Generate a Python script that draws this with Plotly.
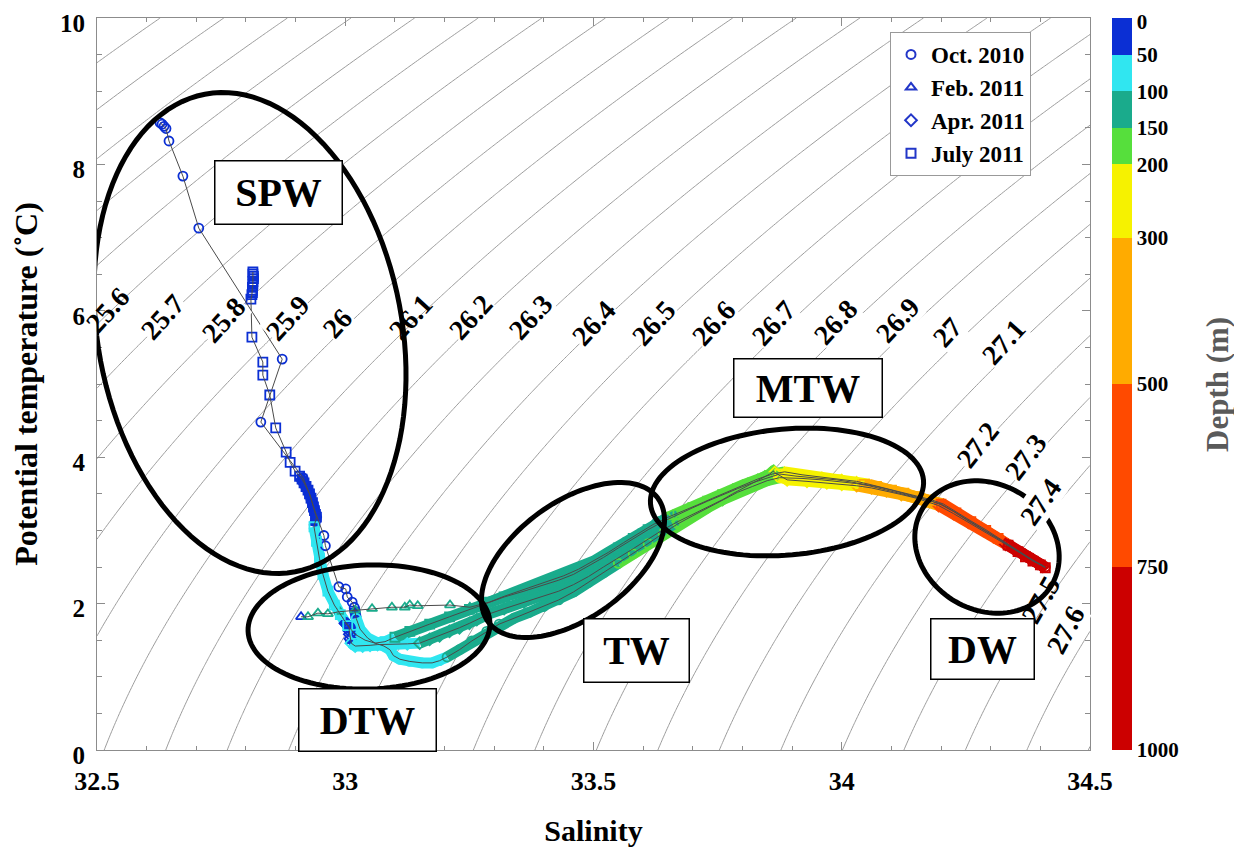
import numpy as np
import plotly.graph_objects as go

FONT = '"Liberation Serif", "Times New Roman", serif'

# ---------------- data ----------------
depth_edges = [0, 50, 100, 150, 200, 300, 500, 750, 1000]
depth_colors = ["#0b2fd4", "#30e6f0", "#1aab8c", "#56df3c", "#f6f200", "#ffab00", "#ff4a00", "#cc0000"]
depth_ticks = [0, 50, 100, 150, 200, 300, 500, 750, 1000]

cruise_names = ["Oct. 2010", "Feb. 2011", "Apr. 2011", "July 2011"]
cruise_symbols = ["circle-open", "triangle-up-open", "diamond-open", "square-open"]

oct_D = [0, 3, 6, 9, 12, 18, 22, 26, 30, 33, 35, 37, 39, 41, 43, 45, 46, 48, 49,
         52, 56, 60, 64, 68, 72, 76, 80, 84, 88, 92, 96,
         100, 104, 108, 112, 116, 120, 124, 128, 132, 136, 140, 145,
         150, 154, 158, 162, 166, 170, 174, 178, 182, 187, 193,
         200, 215, 235, 260, 285, 305, 330, 360, 395, 440, 480,
         510, 545, 580, 620, 660, 705, 750, 800, 850, 900, 950, 1000]
oct_S = [32.627, 32.631, 32.635, 32.639, 32.645, 32.673, 32.705, 32.873, 32.830, 32.915, 32.928, 32.938, 32.957, 32.960, 32.987, 33.001, 33.004, 33.014, 33.018,
         33.022, 33.030, 33.045, 33.060, 33.078, 33.090, 33.097, 33.110, 33.130, 33.155, 33.175, 33.190,
         33.205, 33.230, 33.255, 33.285, 33.310, 33.340, 33.370, 33.400, 33.430, 33.460, 33.490, 33.520,
         33.550, 33.580, 33.610, 33.640, 33.670, 33.700, 33.730, 33.760, 33.790, 33.820, 33.850,
         33.875, 33.920, 33.960, 34.000, 34.030, 34.055, 34.080, 34.110, 34.135, 34.160, 34.180,
         34.200, 34.225, 34.250, 34.275, 34.300, 34.320, 34.340, 34.360, 34.375, 34.390, 34.400, 34.410]
oct_T = [8.57, 8.55, 8.52, 8.49, 8.32, 7.84, 7.13, 5.34, 4.48, 3.72, 3.50, 3.28, 2.93, 2.79, 2.23, 2.20, 2.09, 2.02, 1.95,
         1.80, 1.65, 1.53, 1.46, 1.42, 1.37, 1.29, 1.24, 1.21, 1.19, 1.19, 1.22,
         1.27, 1.37, 1.49, 1.62, 1.72, 1.80, 1.88, 1.96, 2.05, 2.16, 2.29, 2.42,
         2.55, 2.68, 2.82, 2.96, 3.09, 3.20, 3.31, 3.42, 3.52, 3.60, 3.68,
         3.72, 3.71, 3.69, 3.66, 3.64, 3.61, 3.57, 3.52, 3.48, 3.44, 3.40,
         3.35, 3.26, 3.15, 3.05, 2.95, 2.87, 2.78, 2.70, 2.63, 2.58, 2.54, 2.50]

feb_D = [0, 102, 105, 108, 110, 112, 114, 116, 118, 120, 121, 123, 125, 127,
         129, 131, 133, 135, 137, 139, 141, 143, 145, 147, 149,
         152, 156, 160, 165, 170, 176, 183, 191,
         200, 215, 235, 260, 285, 305, 330, 360, 395, 440, 480,
         510, 550, 600, 650, 700, 750, 800, 850, 900, 950, 1000]
feb_S = [32.911, 32.925, 32.945, 32.965, 32.989, 33.020, 33.054, 33.094, 33.120, 33.130, 33.146, 33.211, 33.251, 33.290,
         33.320, 33.350, 33.380, 33.410, 33.440, 33.470, 33.500, 33.530, 33.560, 33.590, 33.620,
         33.650, 33.680, 33.710, 33.740, 33.770, 33.800, 33.830, 33.860,
         33.885, 33.920, 33.960, 34.000, 34.030, 34.055, 34.080, 34.110, 34.135, 34.160, 34.180,
         34.205, 34.230, 34.260, 34.290, 34.315, 34.335, 34.355, 34.370, 34.385, 34.395, 34.405]
feb_T = [1.82, 1.82, 1.87, 1.86, 1.89, 1.91, 1.93, 1.95, 1.95, 1.98, 1.97, 1.98, 1.95, 2.02,
         2.10, 2.17, 2.24, 2.31, 2.38, 2.47, 2.58, 2.70, 2.83, 2.95, 3.08,
         3.18, 3.26, 3.35, 3.44, 3.53, 3.62, 3.70, 3.77,
         3.80, 3.76, 3.73, 3.70, 3.67, 3.63, 3.59, 3.54, 3.50, 3.46, 3.42,
         3.36, 3.25, 3.13, 3.01, 2.90, 2.81, 2.72, 2.65, 2.59, 2.55, 2.52]

apr_D = [0, 5, 10, 15, 20, 25, 30, 35, 40, 45,
         52, 58, 64, 70, 76, 82, 88, 94,
         100, 103, 106, 109, 112, 115, 118, 121, 124, 127, 130, 133, 136, 139, 141, 143, 145, 147, 149,
         152, 155, 158, 162, 166, 170, 174, 178, 182, 186, 190, 195,
         200, 215, 235, 260, 285, 305, 330, 360, 395, 440, 480,
         510, 550, 600, 650, 700, 750, 800, 850, 900, 950, 1000]
apr_S = [33.000, 33.002, 33.004, 33.005, 33.006, 33.007, 33.008, 33.008, 33.009, 33.010,
         33.012, 33.020, 33.035, 33.050, 33.065, 33.080, 33.100, 33.125,
         33.150, 33.170, 33.190, 33.210, 33.230, 33.250, 33.265, 33.290, 33.320, 33.360, 33.400, 33.430, 33.460, 33.490, 33.520, 33.550, 33.580, 33.610, 33.640,
         33.670, 33.700, 33.730, 33.760, 33.780, 33.800, 33.815, 33.830, 33.845, 33.855, 33.860, 33.863,
         33.865, 33.890, 33.930, 33.970, 34.000, 34.030, 34.060, 34.090, 34.120, 34.150, 34.170,
         34.195, 34.225, 34.255, 34.285, 34.310, 34.330, 34.350, 34.370, 34.385, 34.395, 34.405]
apr_T = [1.73, 1.72, 1.72, 1.71, 1.70, 1.69, 1.67, 1.63, 1.58, 1.52,
         1.46, 1.42, 1.42, 1.43, 1.44, 1.44, 1.44, 1.45,
         1.46, 1.51, 1.56, 1.62, 1.67, 1.73, 1.78, 1.86, 1.93, 2.02, 2.10, 2.17, 2.26, 2.37, 2.50, 2.62, 2.75, 2.88, 3.01,
         3.12, 3.22, 3.32, 3.42, 3.50, 3.57, 3.63, 3.68, 3.73, 3.77, 3.80, 3.81,
         3.79, 3.69, 3.67, 3.65, 3.63, 3.61, 3.58, 3.54, 3.49, 3.44, 3.40,
         3.34, 3.23, 3.11, 3.00, 2.90, 2.81, 2.73, 2.66, 2.60, 2.55, 2.51]

jul_D = [0, 2, 4, 6, 8, 10, 12, 14, 16, 18, 20, 22, 24, 26, 28, 30, 32, 34, 36,
         38, 39, 40, 41, 42, 43, 44, 45, 46, 47, 48, 49,
         52, 56, 60, 64, 68, 72, 76, 80, 84, 88, 92, 96,
         100, 103, 106, 109, 112, 115, 118, 121, 124, 127, 130, 133, 136, 139, 142, 145, 148,
         151, 155, 160, 166, 172, 180, 190,
         200, 215, 235, 260, 285, 305, 330, 360, 395, 440, 480,
         510, 550, 600, 650, 700, 750, 800, 850, 900, 950, 1000]
jul_S = [32.814, 32.814, 32.815, 32.815, 32.814, 32.814, 32.813, 32.813, 32.813, 32.812, 32.810, 32.812, 32.834, 32.834, 32.848, 32.860, 32.881, 32.889, 32.899,
         32.908, 32.913, 32.917, 32.921, 32.925, 32.928, 32.931, 32.934, 32.936, 32.938, 32.940, 32.942,
         32.937, 32.942, 32.948, 32.955, 32.965, 32.978, 32.990, 33.005, 33.020, 33.040, 33.060, 33.080,
         33.100, 33.130, 33.170, 33.210, 33.250, 33.290, 33.320, 33.360, 33.400, 33.430, 33.460, 33.490, 33.520, 33.550, 33.580, 33.610, 33.640,
         33.670, 33.700, 33.730, 33.760, 33.790, 33.820, 33.850,
         33.875, 33.910, 33.950, 33.990, 34.020, 34.045, 34.070, 34.100, 34.125, 34.150, 34.175,
         34.200, 34.230, 34.260, 34.290, 34.315, 34.335, 34.355, 34.370, 34.385, 34.400, 34.410]
jul_T = [6.53, 6.50, 6.47, 6.44, 6.40, 6.36, 6.32, 6.28, 6.25, 6.22, 6.16, 5.64, 5.30, 5.12, 4.85, 4.40, 4.07, 3.93, 3.81,
         3.74, 3.70, 3.65, 3.60, 3.55, 3.50, 3.44, 3.38, 3.32, 3.27, 3.22, 3.18,
         3.05, 2.85, 2.62, 2.40, 2.17, 1.98, 1.85, 1.70, 1.58, 1.50, 1.46, 1.48,
         1.54, 1.62, 1.72, 1.82, 1.92, 2.02, 2.09, 2.17, 2.25, 2.32, 2.40, 2.51, 2.63, 2.76, 2.89, 3.01, 3.12,
         3.22, 3.31, 3.40, 3.49, 3.57, 3.65, 3.72,
         3.77, 3.74, 3.72, 3.69, 3.66, 3.63, 3.60, 3.55, 3.51, 3.46, 3.41,
         3.36, 3.24, 3.12, 3.00, 2.89, 2.80, 2.71, 2.64, 2.58, 2.53, 2.49]

# depth from which the dense (band-like) part of each profile starts
band_start = [49, 127, 45, 38]

iso_labels = ["25.6", "25.7", "25.8", "25.9", "26", "26.1", "26.2", "26.3", "26.4", "26.5", "26.6",
              "26.7", "26.8", "26.9", "27", "27.1", "27.2", "27.3", "27.4", "27.5", "27.6"]
# label centres in page pixels
iso_label_px = [(107, 310), (162, 317), (223, 320), (287, 318), (337, 323), (410, 317), (470, 317),
                (530, 317), (593, 323), (653, 323), (713, 323), (773, 323), (835, 322), (897, 320),
                (947, 332), (1003, 342), (977, 445), (1025, 457), (1040, 502), (1040, 600), (1065, 630)]
iso_label_clear = {"25.6", "26.1", "27.5"}

# water-mass labels: name, box centre (page px), box size (px)
water_masses = [("SPW", 278, 192, 129, 65), ("DTW", 367, 720, 139, 64), ("TW", 636, 650, 107, 65),
                ("MTW", 808, 388, 150, 60), ("DW", 982, 649, 105, 62)]
# ellipses: centre x, centre y, semi-axis a, semi-axis b, rotation (deg) - page pixels
ellipses = [(250, 333, 152, 243, -10.7), (369, 627, 121, 62, -2), (573, 560, 105, 58, -36),
            (787, 492, 137, 63, -5), (987, 547, 75, 63, 30)]

# ---------------- layout geometry ----------------
OFF = 8                       # default page margin of the html body
W, H = 1242 - OFF, 847 - OFF
PL, PT = 97, 18               # plot-area top-left corner on the page
PW, PH = 993, 732             # plot-area size
ML, MT = PL - OFF, PT - OFF
MR, MB = W - ML - PW, H - MT - PH
XR, YR = (32.5, 34.5), (0.0, 10.0)


def px2S(px):
    return XR[0] + (np.asarray(px, dtype=float) - PL) / PW * (XR[1] - XR[0])


def py2T(py):
    return YR[0] + (PT + PH - np.asarray(py, dtype=float)) / PH * (YR[1] - YR[0])


def sigma0(S, T):
    rw = (999.842594 + 6.793952e-2 * T - 9.095290e-3 * T**2 + 1.001685e-4 * T**3
          - 1.120083e-6 * T**4 + 6.536332e-9 * T**5)
    A = 8.24493e-1 - 4.0899e-3 * T + 7.6438e-5 * T**2 - 8.2467e-7 * T**3 + 5.3875e-9 * T**4
    B = -5.72466e-3 + 1.0227e-4 * T - 1.6546e-6 * T**2
    C = 4.8314e-4
    return rw + A * S + B * S**1.5 + C * S**2 - 1000.0


def bin_index(d):
    k = int(np.searchsorted(depth_edges, d, side="right")) - 1
    return min(max(k, 0), len(depth_colors) - 1)


fig = go.Figure()

# isopycnals
Sg = np.linspace(XR[0], XR[1], 241)
Tg = np.linspace(YR[0], YR[1], 241)
SS, TT = np.meshgrid(Sg, Tg)
fig.add_trace(go.Contour(
    x=Sg, y=Tg, z=sigma0(SS, TT),
    contours=dict(start=24.9, end=27.8, size=0.1, coloring="lines", showlabels=False),
    colorscale=[[0, "#9c9c9c"], [1, "#9c9c9c"]], line=dict(width=1, smoothing=1),
    showscale=False, hoverinfo="skip", showlegend=False))

profiles = [(oct_S, oct_T, oct_D), (feb_S, feb_T, feb_D), (apr_S, apr_T, apr_D), (jul_S, jul_T, jul_D)]

# thick depth-coloured bands where profiles are densely sampled
for (S, T, D), d0 in zip(profiles, band_start):
    idx = [i for i, d in enumerate(D) if d >= d0]
    groups = []
    for i in idx:
        b = bin_index(D[i])
        if groups and groups[-1][0] == b:
            groups[-1][1].append(i)
        else:
            groups.append([b, [i]])
    for g, (b, ii) in enumerate(groups):
        seg = list(ii)
        if g + 1 < len(groups):
            seg.append(groups[g + 1][1][0])
        fig.add_trace(go.Scatter(
            x=[S[i] for i in seg], y=[T[i] for i in seg], mode="lines",
            line=dict(color=depth_colors[b], width=11), hoverinfo="skip", showlegend=False))

# markers coloured by depth
for (S, T, D), sym in zip(profiles, cruise_symbols):
    fig.add_trace(go.Scatter(
        x=S, y=T, mode="markers",
        marker=dict(symbol=sym, size=9, color=[depth_colors[bin_index(d)] for d in D],
                    line=dict(width=1.8)),
        hoverinfo="skip", showlegend=False))

# thin profile lines
for (S, T, D) in profiles:
    fig.add_trace(go.Scatter(x=S, y=T, mode="lines", line=dict(color="#4a4a4a", width=1),
                             hoverinfo="skip", showlegend=False))

# legend entries
for name, sym in zip(cruise_names, cruise_symbols):
    fig.add_trace(go.Scatter(x=[None], y=[None], mode="markers", name=name,
                             marker=dict(symbol=sym, size=9, color="#2236c8", line=dict(width=2))))

# colour bar (depth); the top label sits just inside the bar so it is not clipped
cscale = []
for k in range(len(depth_colors) - 1, -1, -1):
    v_lo = 1 - depth_edges[k + 1] / 1000.0
    v_hi = 1 - depth_edges[k] / 1000.0
    cscale += [[v_lo, depth_colors[k]], [v_hi, depth_colors[k]]]
cb_tickvals = [-max(d, 5) for d in depth_ticks]
fig.add_trace(go.Scatter(
    x=[0], y=[-100], mode="markers", showlegend=False, hoverinfo="skip",
    marker=dict(color=[-500], cmin=-1000, cmax=0, colorscale=cscale, showscale=True,
                colorbar=dict(thickness=20, lenmode="pixels", len=PH, y=1, yanchor="top",
                              x=1 + 22 / PW, xanchor="left", xpad=0, ypad=0, outlinewidth=0,
                              tickvals=cb_tickvals, ticktext=[str(d) for d in depth_ticks],
                              ticks="", ticklabeloverflow="allow",
                              tickfont=dict(family=FONT, size=21, color="black", weight="bold")))))

annotations = []
# colour-bar title
annotations.append(dict(x=(1218 - PL) / PW, y=1 - (385 - PT) / PH, xref="paper", yref="paper",
                        xanchor="center", yanchor="middle",
                        text="Depth (m)", showarrow=False, textangle=-90,
                        font=dict(family=FONT, size=31, color="#5a5a5a", weight="bold")))

# isopycnal labels (rotated along the isopycnal through the label position)
for lab, (lx, ly) in zip(iso_labels, iso_label_px):
    s, t = float(px2S(lx)), float(py2T(ly))
    e = 1e-4
    dS = (sigma0(s + e, t) - sigma0(s - e, t)) / (2 * e)
    dT = (sigma0(s, t + e) - sigma0(s, t - e)) / (2 * e)
    ang = np.degrees(np.arctan2(dS * PH / (YR[1] - YR[0]), -dT * PW / (XR[1] - XR[0])))
    annotations.append(dict(
        x=s, y=t, xref="x", yref="y", text=lab, showarrow=False, textangle=-(ang + 4),
        font=dict(family=FONT, size=28, color="black", weight="bold"),
        bgcolor="rgba(0,0,0,0)" if lab in iso_label_clear else "white", borderpad=0))

# water-mass boxes
for name, cx, cy, bw, bh in water_masses:
    annotations.append(dict(
        x=float(px2S(cx)), y=float(py2T(cy)), xref="x", yref="y", text=name, showarrow=False,
        font=dict(family=FONT, size=40, color="black", weight="bold"),
        bgcolor="white", bordercolor="black", borderwidth=1.5, borderpad=1,
        width=bw - 5, height=bh - 5, align="center", valign="middle"))

# ellipses
shapes = []
for cx, cy, a, b, rot in ellipses:
    th = np.radians(rot)
    t = np.linspace(0, 2 * np.pi, 120, endpoint=False)
    px = cx + a * np.cos(t) * np.cos(th) - b * np.sin(t) * np.sin(th)
    py = cy + a * np.cos(t) * np.sin(th) + b * np.sin(t) * np.cos(th)
    xs, ys = px2S(px), py2T(py)
    path = "M " + " L ".join(f"{x:.5f},{y:.5f}" for x, y in zip(xs, ys)) + " Z"
    shapes.append(dict(type="path", path=path, xref="x", yref="y",
                       line=dict(color="black", width=5), layer="above"))

axis_common = dict(showgrid=False, zeroline=False, showline=True, linecolor="#8c8c8c", linewidth=1,
                   mirror="ticks", ticks="inside", ticklen=8, tickcolor="#8c8c8c", automargin=False,
                   ticklabeloverflow="allow")
fig.update_layout(
    width=W, height=H, margin=dict(l=ML, r=MR, t=MT, b=MB, autoexpand=False),
    paper_bgcolor="white", plot_bgcolor="white",
    xaxis=dict(range=list(XR), tickvals=[32.5, 33, 33.5, 34, 34.5], ticktext=["32.5", "33", "33.5", "34", "34.5"],
               minor=dict(ticks="inside", dtick=0.1, ticklen=4, tickcolor="#8c8c8c"),
               ticklabelstandoff=8,
               tickfont=dict(family=FONT, size=26, color="black", weight="bold"),
               title=dict(text="Salinity", standoff=30,
                          font=dict(family=FONT, size=30, color="black", weight="bold")),
               **axis_common),
    yaxis=dict(range=list(YR), dtick=2,
               minor=dict(ticks="inside", dtick=0.5, ticklen=5, tickcolor="#8c8c8c"),
               ticklabelstandoff=6, ticklabelshift=5,
               tickfont=dict(family=FONT, size=25, color="black", weight="bold"),
               title=dict(text="Potential temperature (˚C)", standoff=14,
                          font=dict(family=FONT, size=32, color="black", weight="bold")),
               **axis_common),
    legend=dict(x=(890 - PL) / PW, y=1 - (32 - PT) / PH, xanchor="left", yanchor="top",
                bgcolor="white", bordercolor="#999999", borderwidth=1,
                font=dict(family=FONT, size=23, color="black", weight="bold"), itemwidth=30),
    annotations=annotations, shapes=shapes, showlegend=True,
)

fig.write_html("out.html")
